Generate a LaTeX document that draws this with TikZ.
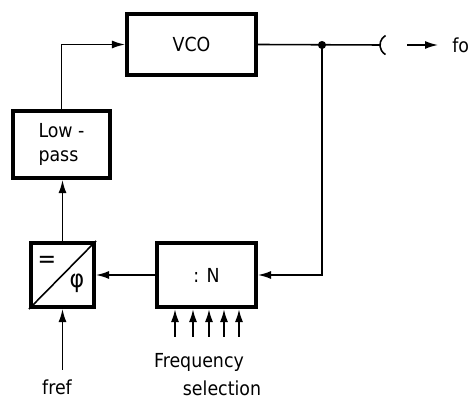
\documentclass[tikz,border=0pt]{standalone}
\usepackage{fontspec}
\setmainfont{DejaVu Sans Condensed}
\usetikzlibrary{arrows.meta}

\begin{document}
\begin{tikzpicture}[x=0.02cm,y=-0.02cm,
  every node/.style={font=\fontsize{11}{14}\selectfont},
  block/.style={draw,line width=2.3pt,inner sep=0pt},
  wire/.style={line width=0.9pt},
  sig/.style={line width=0.9pt,-{Latex[length=2.6mm,width=1.6mm]}}]

\useasboundingbox (0,0) rectangle (474,401);

% Blocks
\node[block,minimum width=2.58cm,minimum height=1.22cm] (vco) at (191.5,44.5) {VCO};
\node[block,minimum width=1.94cm,minimum height=1.34cm,align=left] (lp) at (61.5,144.5) {Low -\\pass};
\node[block,minimum width=1.26cm,minimum height=1.28cm] (pd) at (62.5,275) {};
\node[block,minimum width=1.98cm,minimum height=1.28cm] (div) at (206.5,275) {: N};

% Phase detector symbol
\draw[wire] (pd.south west) -- (pd.north east);
\node[font=\fontsize{14}{14}\selectfont] (eq) at (47,262) {=};
\node[font=\fontsize{14}{14}\selectfont] (phi) at (77,283) {φ};

% Output with junction
\coordinate (jn) at (322,45);
\coordinate (cap) at (380,45);
\draw[wire] (vco.east) -- (cap);
\draw[wire] (385.5,35.5) arc[start angle=120,end angle=240,radius=0.22cm];
\fill (jn) circle (2.3pt);
\coordinate (oa) at (407,45);
\coordinate (ob) at (438,45);
\draw[sig] (oa) -- (ob);
\node[anchor=west,inner sep=0pt] (fo) at (452,45) {fo};

% Loop
\draw[sig] (jn) |- (div.east);
\draw[sig] (div.west) -- (pd.east);
\draw[sig] (pd.north) -- (pd.north |- lp.south);
\draw[sig] (lp.north) |- (vco.west);

% Reference input
\coordinate (rf) at (62.5,370);
\draw[sig] (rf) -- (pd.south);
\node (fref) at (57,387) {fref};

% Frequency selection inputs
\foreach \x in {175,193,209,224,239}
{
\draw[sig,line width=1.1pt] (\x,337) -- (\x,337 |- div.south);
}
\node (fsel) at (199,362) {Frequency};
\node (fsel2) at (222,388) {selection};

\end{tikzpicture}
\end{document}
